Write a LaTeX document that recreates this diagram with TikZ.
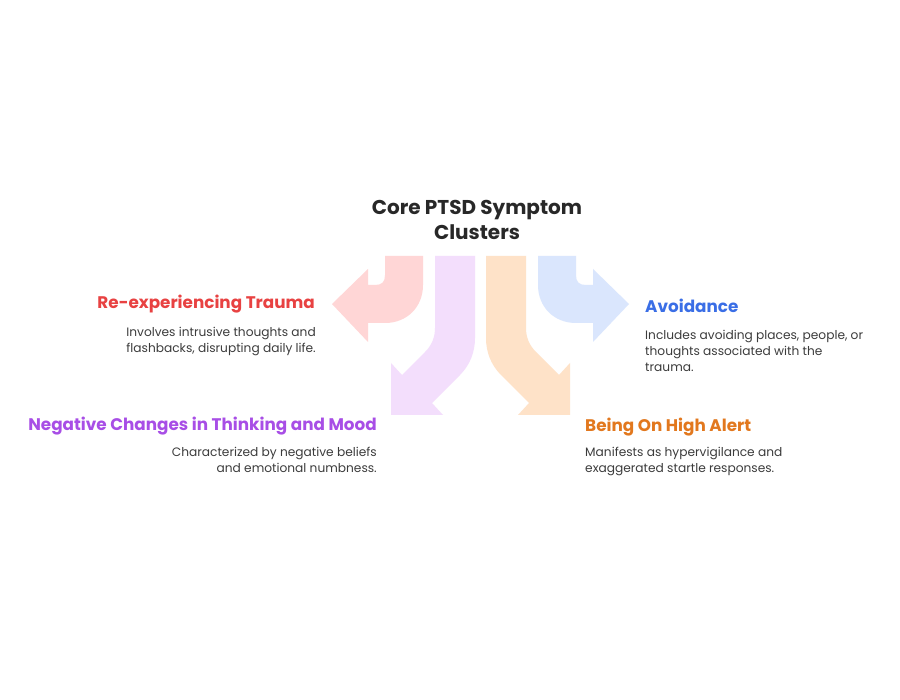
\documentclass[tikz,border=0pt]{standalone}
\usepackage{fontspec}
\setmainfont{Poppins}
\definecolor{redA}{RGB}{255,214,214}
\definecolor{purA}{RGB}{243,222,252}
\definecolor{oraA}{RGB}{254,226,200}
\definecolor{bluA}{RGB}{218,230,253}
\definecolor{redT}{RGB}{232,66,66}
\definecolor{purT}{RGB}{168,78,230}
\definecolor{bluT}{RGB}{58,110,230}
\definecolor{oraT}{RGB}{226,120,30}
\definecolor{descT}{RGB}{60,60,60}
\definecolor{titT}{RGB}{40,40,40}
\tikzset{
  headtxt/.style={inner sep=0pt, font=\fontsize{16.8}{20}\selectfont\bfseries},
  desctxt/.style={inner sep=0pt, text=descT, font=\fontsize{12.2}{15.8}\selectfont},
  maintitle/.style={inner sep=0pt, text=titT, align=center, font=\fontsize{20}{25}\selectfont\bfseries}
}
\begin{document}
\begin{tikzpicture}[x=1pt,y=-1pt]
\useasboundingbox[fill=white] (0,0) rectangle (900,700);
% red arrow
\fill[redA] (385,256) -- (385,275) .. controls (385,282) and (382,285) .. (375,285) -- (368,285) -- (368,269) -- (332,304) -- (368,342) -- (368,323) -- (385,323) .. controls (407,323) and (423,307) .. (423,285) -- (423,256) -- cycle;
% purple arrow
\fill[purA] (435,256) -- (475,256) -- (475,338) .. controls (475,352) and (470,365) .. (460,375) -- (432,403) -- (443,415) -- (391,415) -- (391,363) -- (402,375) -- (425,352) .. controls (432,345) and (435,337) .. (435,328) -- cycle;
\begin{scope}[shift={(961,0)}, xscale=-1]
% blue arrow (mirror of red)
\fill[bluA] (385,256) -- (385,275) .. controls (385,282) and (382,285) .. (375,285) -- (368,285) -- (368,269) -- (332,304) -- (368,342) -- (368,323) -- (385,323) .. controls (407,323) and (423,307) .. (423,285) -- (423,256) -- cycle;
% orange arrow (mirror of purple)
\fill[oraA] (435,256) -- (475,256) -- (475,338) .. controls (475,352) and (470,365) .. (460,375) -- (432,403) -- (443,415) -- (391,415) -- (391,363) -- (402,375) -- (425,352) .. controls (432,345) and (435,337) .. (435,328) -- cycle;
\end{scope}
% title
\node[maintitle] (title) at (477,220) {Core PTSD Symptom\\Clusters};
% red
\node[headtxt, text=redT, anchor=east] (rt) at (315,304) {Re-experiencing Trauma};
\node[desctxt, anchor=north east, align=right] (rd) at (316,327) {Involves intrusive thoughts and\\flashbacks, disrupting daily life.};
% purple
\node[headtxt, text=purT, anchor=east] (pt) at (377,426) {Negative Changes in Thinking and Mood};
\node[desctxt, anchor=north east, align=right] (pd) at (377,447) {Characterized by negative beliefs\\and emotional numbness.};
% blue
\node[headtxt, text=bluT, anchor=west] (bt) at (645,306) {Avoidance};
\node[desctxt, anchor=north west, align=left] (bd) at (645,330) {Includes avoiding places, people, or\\thoughts associated with the\\trauma.};
% orange
\node[headtxt, text=oraT, anchor=west] (ot) at (585,427) {Being On High Alert};
\node[desctxt, anchor=north west, align=left] (od) at (585,447) {Manifests as hypervigilance and\\exaggerated startle responses.};
\end{tikzpicture}
\end{document}
